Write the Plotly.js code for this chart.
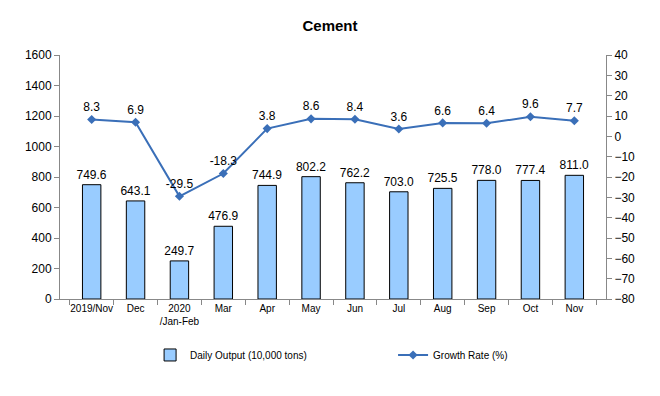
<!DOCTYPE html>
<html><head><meta charset="utf-8">
<script src="https://cdn.plot.ly/plotly-3.0.1.min.js"></script>
<style>html,body{margin:0;padding:0;background:#fff}</style>
</head><body>
<div id="chart" style="width:660px;height:396px"></div>
<script>
const categories = ["2019/Nov","Dec","2020<br>/Jan-Feb","Mar","Apr","May","Jun","Jul","Aug","Sep","Oct","Nov"];
const dailyOutput = [749.6,643.1,249.7,476.9,744.9,802.2,762.2,703.0,725.5,778.0,777.4,811.0];
const growthRate = [8.3,6.9,-29.5,-18.3,3.8,8.6,8.4,3.6,6.6,6.4,9.6,7.7];

const font = "Liberation Sans, Arial, sans-serif";
const bar = {
  type:'bar', x:categories, y:dailyOutput, name:'Daily Output (10,000 tons)',
  marker:{color:'#99ccff', line:{color:'#000', width:1}},
  text:dailyOutput.map(v=>v.toFixed(1)), textposition:'outside', constraintext:'none',
  textfont:{size:12, color:'#000', family:font}, cliponaxis:false,
  width:0.42, legend:'legend'
};
const line = {
  type:'scatter', mode:'lines+markers+text', x:categories, y:growthRate, yaxis:'y2',
  name:'Growth Rate (%)',
  line:{color:'#3a6fb8', width:2}, marker:{symbol:'diamond', size:7, color:'#3a6fb8'},
  text:growthRate.map(v=>v.toFixed(1)), textposition:'top center',
  textfont:{size:12, color:'#000', family:font}, cliponaxis:false, legend:'legend2'
};
const legendBase = {orientation:'h', xanchor:'left', y:-0.17, yanchor:'top', font:{size:10}, bgcolor:'rgba(0,0,0,0)'};
const layout = {
  width:660, height:396, margin:{l:60, r:54, t:55, b:97},
  paper_bgcolor:'#fff', plot_bgcolor:'#fff',
  font:{family:font, size:11, color:'#000'},
  title:{text:'<b>Cement</b>', x:0.5, xanchor:'center', y:0.935, yanchor:'middle', font:{size:15, family:font}},
  showlegend:true,
  legend:Object.assign({x:0.165}, legendBase),
  legend2:Object.assign({x:0.61}, legendBase),
  xaxis:{type:'category', showline:true, linecolor:'#888', ticks:'outside', tickson:'boundaries', ticklen:5, tickcolor:'#888', showgrid:false, tickangle:0, tickfont:{size:10}},
  yaxis:{range:[0,1600], dtick:200, showline:true, linecolor:'#888', ticks:'outside', ticklen:5, tickcolor:'#888', showgrid:false, zeroline:false, tickfont:{size:12}},
  yaxis2:{range:[-80,40], dtick:10, overlaying:'y', side:'right', showline:true, linecolor:'#888', ticks:'outside', ticklen:5, tickcolor:'#888', showgrid:false, zeroline:false, tickfont:{size:12}}
};
Plotly.newPlot('chart',[bar,line],layout,{displayModeBar:false});
</script>
</body></html>
